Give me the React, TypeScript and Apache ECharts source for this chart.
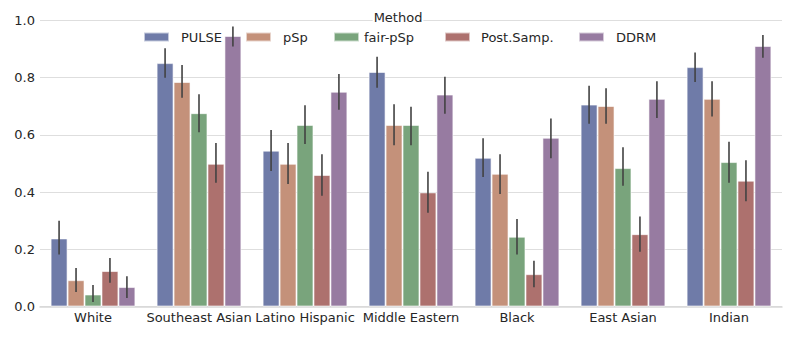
import React, { useEffect, useRef } from "react";
import * as echarts from "echarts";

const categories = ["White", "Southeast Asian", "Latino Hispanic", "Middle Eastern", "Black", "East Asian", "Indian"];
const methods = ["PULSE", "pSp", "fair-pSp", "Post.Samp.", "DDRM"];

const pulseVals = [0.238, 0.851, 0.545, 0.82, 0.52, 0.706, 0.837];
const pulseLo = [0.182, 0.8, 0.474, 0.765, 0.453, 0.639, 0.785];
const pulseHi = [0.3, 0.903, 0.617, 0.873, 0.588, 0.772, 0.888];

const pspVals = [0.092, 0.785, 0.499, 0.635, 0.464, 0.701, 0.726];
const pspLo = [0.051, 0.73, 0.428, 0.564, 0.393, 0.639, 0.664];
const pspHi = [0.135, 0.844, 0.572, 0.707, 0.532, 0.763, 0.788];

const fairVals = [0.042, 0.676, 0.635, 0.635, 0.244, 0.484, 0.505];
const fairLo = [0.016, 0.609, 0.568, 0.564, 0.182, 0.422, 0.433];
const fairHi = [0.075, 0.742, 0.704, 0.698, 0.306, 0.557, 0.576];

const postVals = [0.124, 0.499, 0.46, 0.399, 0.113, 0.253, 0.44];
const postLo = [0.083, 0.433, 0.387, 0.328, 0.067, 0.191, 0.368];
const postHi = [0.17, 0.572, 0.532, 0.471, 0.16, 0.315, 0.511];

const ddrmVals = [0.068, 0.946, 0.751, 0.741, 0.59, 0.726, 0.911];
const ddrmLo = [0.03, 0.909, 0.688, 0.674, 0.518, 0.659, 0.87];
const ddrmHi = [0.106, 0.979, 0.813, 0.803, 0.657, 0.788, 0.949];

const yTicks = [0, 0.2, 0.4, 0.6, 0.8, 1.0];

const colors = ["#6f7ba8", "#c4917a", "#79a47c", "#ad716e", "#977ba1"];
const legendLefts = [143, 245, 333, 444, 578];
const legendPads = [7, 7, 0, 6, 7];

const FONT = "DejaVu Sans";

export default function App() {
  const ref = useRef<HTMLDivElement>(null);
  useEffect(() => {
    if (!ref.current) return;
    const chart = echarts.init(ref.current, undefined, { renderer: "svg" });
    const vals = [pulseVals, pspVals, fairVals, postVals, ddrmVals];
    const los = [pulseLo, pspLo, fairLo, postLo, ddrmLo];
    const his = [pulseHi, pspHi, fairHi, postHi, ddrmHi];
    const n = methods.length;

    const barSeries = methods.map((m, k) => ({
      name: m,
      type: "bar",
      data: vals[k],
      barGap: "0%",
      barCategoryGap: "20%",
      itemStyle: { color: colors[k], borderColor: "rgba(255,255,255,0.6)", borderWidth: 1 },
      z: 2,
    }));

    const errSeries = methods.map((m, k) => ({
      name: "err-" + m,
      type: "custom",
      data: categories.map((_, i) => [i, los[k][i], his[k][i]]),
      encode: { x: 0, y: [1, 2] },
      z: 5,
      renderItem: (params: any, api: any) => {
        const p1 = api.coord([api.value(0), api.value(1)]);
        const p2 = api.coord([api.value(0), api.value(2)]);
        const bw = api.size([1, 0])[0];
        const off = (k - (n - 1) / 2) * ((bw * 0.8) / n);
        return {
          type: "line",
          shape: { x1: p1[0] + off, y1: p1[1], x2: p2[0] + off, y2: p2[1] },
          style: { stroke: "#424242", lineWidth: 1.6 },
        };
      },
    }));

    const legends = methods.map((m, k) => ({
      data: [m],
      left: legendLefts[k],
      top: 30.5,
      padding: 0,
      itemWidth: 25,
      itemHeight: 9,
      icon: "rect",
      selectedMode: false,
      textStyle: { fontSize: 13, color: "#262626", fontFamily: FONT, padding: [0, 0, 0, legendPads[k]] },
    }));

    chart.setOption({
      animation: false,
      backgroundColor: "#ffffff",
      textStyle: { fontFamily: FONT },
      grid: { left: 40, right: 15, top: 20.5, bottom: 32.5, containLabel: false },
      legend: legends,
      xAxis: {
        type: "category",
        data: categories,
        axisTick: { show: false },
        axisLine: { show: true, lineStyle: { color: "#d8d8d8", width: 1.5 } },
        axisLabel: { fontSize: 13, color: "#262626", fontFamily: FONT, margin: 4, interval: 0 },
      },
      yAxis: {
        type: "value",
        min: 0,
        max: 1,
        interval: 0.2,
        axisLine: { show: false },
        axisTick: { show: false },
        splitLine: { show: true, lineStyle: { color: "#dedede", width: 1 } },
        axisLabel: {
          fontSize: 13,
          color: "#262626",
          fontFamily: FONT,
          margin: 5,
          formatter: (v: number) => {
            const t = yTicks.find((x) => Math.abs(x - v) < 1e-6);
            return (t !== undefined ? t : v).toFixed(1);
          },
        },
      },
      graphic: [
        {
          type: "text",
          x: 398,
          y: 17,
          z: 10,
          style: {
            text: "Method",
            fontSize: 13,
            fontFamily: FONT,
            fill: "#262626",
            align: "center",
            verticalAlign: "middle",
            backgroundColor: "#ffffff",
            padding: [1, 1],
          },
        },
      ],
      series: [...barSeries, ...errSeries],
    });
    return () => chart.dispose();
  }, []);
  return <div ref={ref} style={{ position: "fixed", left: 0, top: 0, width: 797, height: 339 }} />;
}
